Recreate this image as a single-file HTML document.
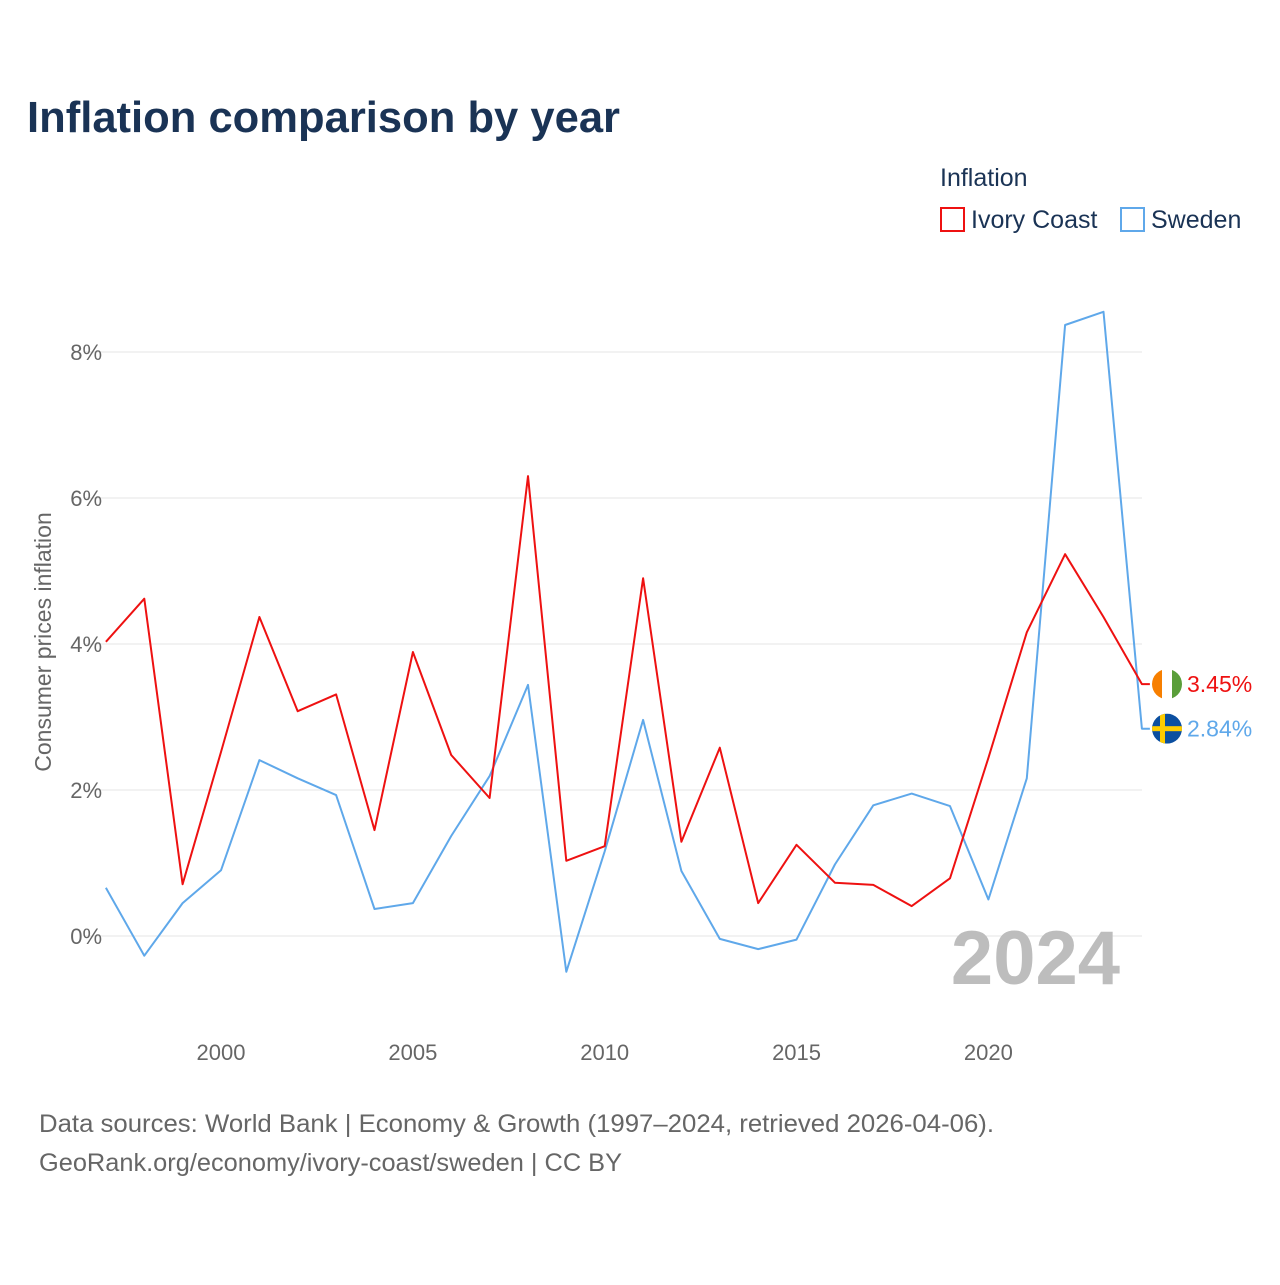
<!DOCTYPE html>
<html><head><meta charset="utf-8"><style>
body{margin:0;background:#fff;font-family:"Liberation Sans",sans-serif;}
svg text{font-family:"Liberation Sans",sans-serif;}
</style></head><body>
<svg id="chart" width="1280" height="1280" viewBox="0 0 1280 1280">
<text x="27" y="132" font-size="44" font-weight="bold" fill="#1a3355" textLength="593" lengthAdjust="spacingAndGlyphs">Inflation comparison by year</text>
<text x="940" y="186" font-size="25" fill="#1a3355">Inflation</text>
<g><rect x="941" y="208" width="23" height="23" fill="none" stroke="#ee1111" stroke-width="2"/><text x="971" y="228" font-size="25" fill="#1a3355">Ivory Coast</text></g>
<g><rect x="1121" y="208" width="23" height="23" fill="none" stroke="#5fa8ea" stroke-width="2"/><text x="1151" y="228" font-size="25" fill="#1a3355">Sweden</text></g>
<g id="grid"></g>
<text x="0" y="0" transform="translate(51,642) rotate(-90)" text-anchor="middle" font-size="23" fill="#666">Consumer prices inflation</text>
<text x="1120" y="984" text-anchor="end" font-size="76" font-weight="bold" fill="#bdbdbd">2024</text>
<g id="series"></g>
<text x="39" y="1132" font-size="25" fill="#666" textLength="955" lengthAdjust="spacingAndGlyphs">Data sources: World Bank | Economy &amp; Growth (1997–2024, retrieved 2026-04-06).</text>
<text x="39" y="1171" font-size="25" fill="#666" textLength="583" lengthAdjust="spacingAndGlyphs">GeoRank.org/economy/ivory-coast/sweden | CC BY</text>
</svg>
<script>
const years=[1997,1998,1999,2000,2001,2002,2003,2004,2005,2006,2007,2008,2009,2010,2011,2012,2013,2014,2015,2016,2017,2018,2019,2020,2021,2022,2023,2024];
const ivoryCoast=[4.03,4.62,0.71,2.52,4.37,3.08,3.31,1.45,3.89,2.48,1.89,6.30,1.03,1.23,4.90,1.29,2.58,0.45,1.25,0.73,0.70,0.41,0.79,2.44,4.16,5.23,4.37,3.45];
const sweden=[0.66,-0.27,0.45,0.90,2.41,2.16,1.93,0.37,0.45,1.37,2.19,3.44,-0.49,1.16,2.96,0.89,-0.04,-0.18,-0.05,0.98,1.79,1.95,1.78,0.50,2.16,8.37,8.55,2.84];
const yTicks=[0,2,4,6,8];
const xTicks=[2000,2005,2010,2015,2020];
const NS="http://www.w3.org/2000/svg";
const X=y=>221+(y-2000)*38.37;
const Y=v=>936-v*73;
const grid=document.getElementById('grid'),ser=document.getElementById('series');
function mk(tag,attrs,parent){const e=document.createElementNS(NS,tag);for(const k in attrs)e.setAttribute(k,attrs[k]);parent.appendChild(e);return e;}
yTicks.forEach(t=>{
 const l=mk('line',{x1:85,x2:1142,y1:Y(t),y2:Y(t),stroke:'#e6e6e6','stroke-width':1},grid);
 
 
 const tx=mk('text',{x:102,y:Y(t)+8,'text-anchor':'end','font-size':22,fill:'#666'},grid);
 tx.textContent=t+'%';
 
 
});
xTicks.forEach(t=>{
 const tx=mk('text',{x:X(t),y:1060,'text-anchor':'middle','font-size':22,fill:'#666'},grid);
 tx.textContent=t;
 
 
});
function line(vals,color,name){
 const pts=vals.map((v,i)=>X(years[i]).toFixed(1)+','+Y(v).toFixed(1));
 const last=vals[vals.length-1];
 pts.push((X(years[years.length-1])+8)+','+Y(last).toFixed(1));
 const p=mk('polyline',{points:pts.join(' '),fill:'none',stroke:color,'stroke-width':2,'stroke-linejoin':'round'},ser);
 
 
}
line(sweden,'#5fa8ea','sweden-line');
line(ivoryCoast,'#ee1111','ivory-coast-line');
const icV=ivoryCoast[ivoryCoast.length-1], swV=sweden[sweden.length-1];
const fx=1167;
let g=mk('g',{},ser);


const cp1=mk('clipPath',{id:'c1'},g);mk('circle',{cx:fx,cy:Y(icV),r:15},cp1);
const gc=mk('g',{'clip-path':'url(#c1)'},g);
mk('rect',{x:fx-15,y:Y(icV)-15,width:10,height:30,fill:'#f77f00'},gc);
mk('rect',{x:fx-5,y:Y(icV)-15,width:10,height:30,fill:'#fff'},gc);
mk('rect',{x:fx+5,y:Y(icV)-15,width:10,height:30,fill:'#5a9e3a'},gc);
let t1=mk('text',{x:1187,y:Y(icV)+8,'font-size':23,fill:'#ee1111'},ser);
t1.textContent=icV.toFixed(2)+'%';


let g2=mk('g',{},ser);


const cp2=mk('clipPath',{id:'c2'},g2);mk('circle',{cx:fx,cy:Y(swV),r:15},cp2);
const gs=mk('g',{'clip-path':'url(#c2)'},g2);
mk('rect',{x:fx-15,y:Y(swV)-15,width:30,height:30,fill:'#0b4fa0'},gs);
mk('rect',{x:fx-7,y:Y(swV)-15,width:5,height:30,fill:'#fecc00'},gs);
mk('rect',{x:fx-15,y:Y(swV)-2.5,width:30,height:5,fill:'#fecc00'},gs);
let t2=mk('text',{x:1187,y:Y(swV)+8,'font-size':23,fill:'#5fa8ea'},ser);
t2.textContent=swV.toFixed(2)+'%';


</script>
</body></html>
